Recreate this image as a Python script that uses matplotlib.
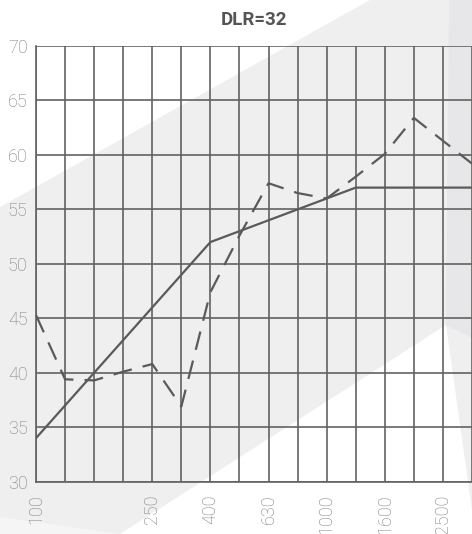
import numpy as np
import matplotlib
matplotlib.use("Agg")
import matplotlib.pyplot as plt
from matplotlib.patches import Polygon

# third-octave bands, 100 Hz .. 3150 Hz
bands = ["100", "125", "160", "200", "250", "315", "400", "500",
         "630", "800", "1000", "1250", "1600", "2000", "2500", "3150"]
shown_labels = ["100", "250", "400", "630", "1000", "1600", "2500"]

# shifted reference curve (solid)
reference = [34, 37, 40, 43, 46, 49, 52, 53, 54, 55, 56, 57, 57, 57, 57, 57]
# measured curve (dashed)
measured = [45.3, 39.4, 39.3, 40.1, 40.8, 36.9, 47.4, 52.6,
            57.4, 56.5, 56.0, 58.0, 60.1, 63.4, 61.3, 59.2]

title = "DLR=32"

W, H = 472, 534
fig = plt.figure(figsize=(W / 100, H / 100), dpi=100)
fig.patch.set_facecolor("white")


def px(points):
    return [(x / W, 1 - y / H) for x, y in points]


# background shapes
bg = [
    ([(0, 207), (370, 0), (472, 0), (472, 510), (446, 325), (120, 534), (0, 534)], "#efeff0"),
    ([(449, 0), (472, 0), (472, 338), (446, 325)], "#e7e7e9"),
    ([(0, 517), (120, 534), (0, 534)], "#f5f5f6"),
]
for pts, col in bg:
    fig.patches.append(Polygon(px(pts), closed=True, transform=fig.transFigure,
                               facecolor=col, edgecolor="none", zorder=-10))

ax = fig.add_axes([36 / W, 1 - 481.7 / H, (W - 36) / W, (481.7 - 46) / H])
ax.set_facecolor("none")

x = np.arange(len(bands))
grid_col = "#626262"

ax.plot(x, reference, color="#5a5a5a", lw=1.6, zorder=3)
ax.plot(x, measured, color="#5a5a5a", lw=1.6, dashes=(8.5, 5), zorder=3)

ax.set_xlim(0, 14.89)
ax.set_ylim(30, 70)
ax.set_yticks(np.arange(30, 71, 5))
ax.set_xticks(x)
ax.set_xticklabels([b if b in shown_labels else "" for b in bands], rotation=90)

ax.grid(True, color=grid_col, lw=1.2)
ax.set_axisbelow(True)
for s in ["top", "right"]:
    ax.spines[s].set_visible(False)
for s in ["left", "bottom"]:
    ax.spines[s].set_color(grid_col)
    ax.spines[s].set_linewidth(1.2)

ax.tick_params(axis="both", length=0, labelcolor="#7c7c7c", labelsize=13)
ax.tick_params(axis="y", pad=6)
ax.tick_params(axis="x", pad=9)
for lab in ax.get_xticklabels() + ax.get_yticklabels():
    lab.set_fontfamily("Roboto")
    lab.set_fontweight("light")

ax.set_title(title, fontsize=13.5, fontweight="bold", color="#555555",
             fontfamily="Roboto", pad=15)

fig.savefig("out.png", dpi=100)
